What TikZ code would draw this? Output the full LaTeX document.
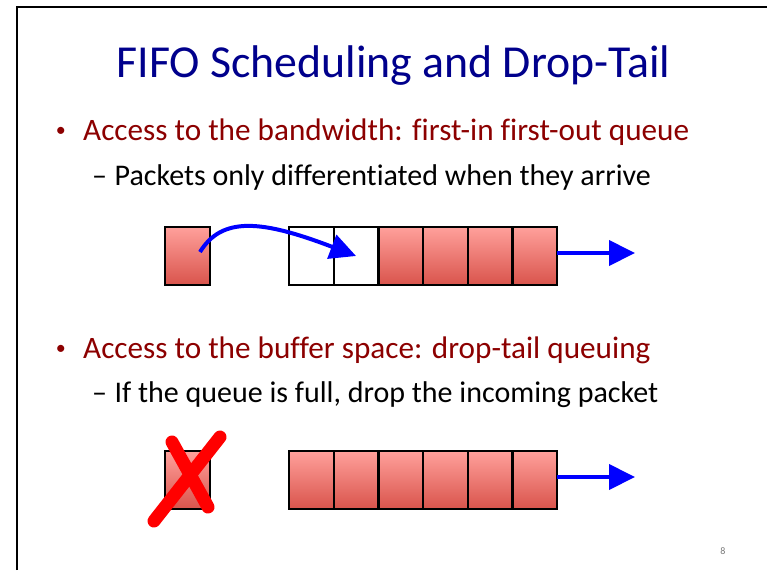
\documentclass[tikz,border=0pt]{standalone}
\usepackage{fontspec}
\setmainfont{Carlito}[Ligatures=NoCommon]
\usetikzlibrary{arrows.meta,positioning}
\definecolor{titleblue}{RGB}{0,0,140}
\definecolor{bulletred}{RGB}{140,0,0}
\definecolor{pktlight}{RGB}{255,160,155}
\definecolor{pktdark}{RGB}{217,84,76}
\definecolor{pagegray}{RGB}{120,120,120}
\tikzset{
  cell/.style={draw, line width=2.2pt, minimum width=44.7pt, minimum height=58pt,
    inner sep=0pt, outer sep=0pt},
  pkt/.style={cell, top color=pktlight, bottom color=pktdark},
  emptycell/.style={cell, fill=white},
  flow/.style={blue, line width=4pt, -{Triangle[length=26pt,width=25pt]}},
  titletext/.style={text=titleblue, font=\fontsize{45.8}{46}\selectfont, inner sep=0pt, anchor=base},
  bullettext/.style={text=bulletred, font=\fontsize{31.2}{32}\selectfont, inner sep=0pt, anchor=base west},
  bulletmark/.style={text=bulletred, font=\fontsize{20}{20}\selectfont, inner sep=0pt, anchor=base east},
  subtext/.style={text=black, font=\fontsize{30}{30}\selectfont, inner sep=0pt, anchor=base west},
  dropmark/.style={red, line width=13pt, line cap=round},
}
\begin{document}
\begin{tikzpicture}[x=1pt, y=-1pt]
\useasboundingbox (0,0) rectangle (767,570);
% slide frame
\draw[line width=2pt] (17,570) -- (17,7) -- (767,7);

% texts
\node[titletext] (title) at (393.5,77) {FIFO Scheduling and Drop-Tail};
\node[bullettext] (b1) at (83,140) {Access to the bandwidth: first-in first-out queue};
\node[bulletmark] (m1) at (66,136) {•};
\node[subtext] (s1) at (92,185) {–\hspace{0.25em}Packets only differentiated when they arrive};
\node[bullettext] (b2) at (83,358) {Access to the buffer space: drop-tail queuing};
\node[bulletmark] (m2) at (66,354) {•};
\node[subtext] (s2) at (92,402) {–\hspace{0.25em}If the queue is full, drop the incoming packet};

% FIFO queue
\node[pkt] (pktA) at (187.5,256) {};
\node[emptycell] (qa1) at (311.35,256) {};
\node[emptycell, right=0pt of qa1] (qa2) {};
\node[pkt, right=0pt of qa2] (qa3) {};
\node[pkt, right=0pt of qa3] (qa4) {};
\node[pkt, right=0pt of qa4] (qa5) {};
\node[pkt, right=0pt of qa5] (qa6) {};
\coordinate (srcA) at (200,252);
\coordinate (outA) at (635,253);
\draw[flow] (srcA) .. controls (222,216) and (262,220) .. (qa2.center);
\draw[flow] (qa6.east |- outA) -- (outA);

% drop-tail queue
\node[pkt] (pktB) at (187.5,480) {};
\node[pkt] (qb1) at (311.35,480) {};
\foreach \i [remember=\i as \j (initially 1)] in {2,...,6}
  \node[pkt, right=0pt of qb\j] (qb\i) {};
\coordinate (outB) at (635,477);
\draw[flow] (qb6.east |- outB) -- (outB);
\draw[dropmark] (172,442) -- (208,507);
\draw[dropmark] (220,437) -- (154,521);

% page number
\node[text=pagegray, font=\fontsize{10}{10}\selectfont, inner sep=0pt] (page) at (723,551.5) {8};
\end{tikzpicture}
\end{document}
